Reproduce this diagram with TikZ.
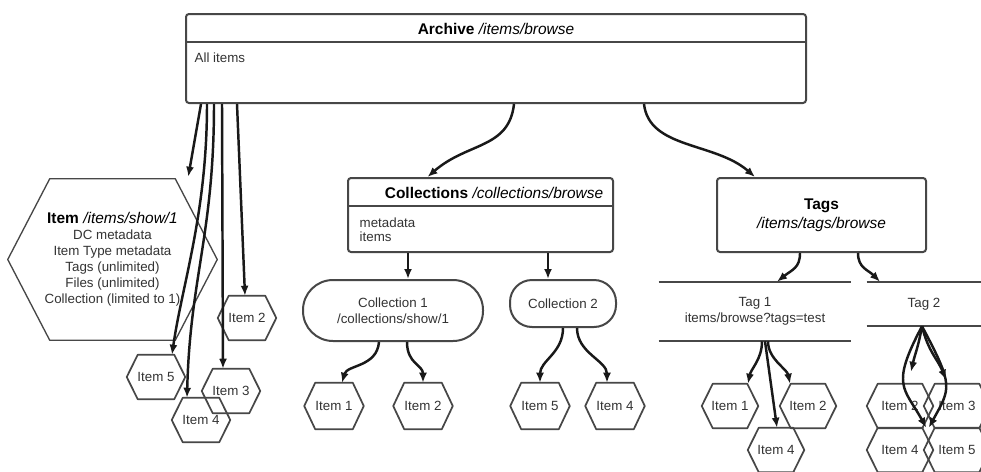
\documentclass[tikz,border=0pt]{standalone}
\usepackage{fontspec}
\setmainfont{Liberation Sans}
\usetikzlibrary{arrows.meta}
\newlength{\px}\setlength{\px}{0.75pt}
\newcommand{\bodyf}{\fontsize{10}{12}\selectfont}
\newcommand{\titlef}{\fontsize{11.6}{14.25}\selectfont}
\newcommand{\hexout}[3][]{\draw[hexline,#1] ([xshift=#3\px]#2.north west) -- ([xshift=-#3\px]#2.north east) -- (#2.east) -- ([xshift=-#3\px]#2.south east) -- ([xshift=#3\px]#2.south west) -- (#2.west) -- cycle;}
\tikzset{
  boxline/.style={draw=black!72, line width=1.5pt},
  boxnode/.style={boxline, rounded corners=3\px, inner sep=0pt},
  hexn/.style={inner sep=0pt, minimum width=58\px, minimum height=44\px, font=\bodyf, text=black!80},
  hexline/.style={draw=black!72, line width=1.3pt, line join=round},
  conn/.style={draw=black!90, line width=1.85pt, -{Latex[length=7.5pt,width=6pt]}},
  bodytext/.style={font=\bodyf, text=black!80},
}
\begin{document}
\begin{tikzpicture}[x=0.75pt,y=-0.75pt]
\clip (0,0) rectangle (981,471);
\fill[white] (0,0) rectangle (981,471);

% Archive
\node[boxnode, minimum width=620\px, minimum height=89\px] (archive) at (496,58.5) {};
\draw[boxline] ([yshift=-29\px]archive.north west) -- ([yshift=-29\px]archive.north east);
\node[font=\titlef] (archt) at (496,28.5) {\textbf{Archive} \itshape/items/browse};
\node[anchor=west, bodytext] (allit) at (190,58) {All items};

% Item big hexagon
\node[inner sep=0pt, minimum width=209\px, minimum height=161\px, align=center, bodytext] (item) at (112.5,259.5)
  {{\titlef\color{black}\textbf{Item} \itshape/items/show/1}\\DC metadata\\Item Type metadata\\Tags (unlimited)\\Files (unlimited)\\Collection (limited to 1)};
\hexout[line width=1pt]{item}{42}

% items from archive
\node[hexn] (i2a) at (247,318) {Item 2};
\node[hexn] (i5a) at (156,377) {Item 5};
\node[hexn] (i4a) at (201,420) {Item 4};
\node[hexn] (i3a) at (231,391) {Item 3};
\hexout{i2a}{11}
\hexout{i5a}{11}
\hexout{i4a}{11}
\hexout{i3a}{11}

\draw[conn] ([xshift=16\px]archive.south west) -- ([xshift=-29\px,yshift=2\px]item.north east);
\draw[conn] ([xshift=22\px]archive.south west) .. controls +(0,110) and +(10,-70) .. ([xshift=16\px]i5a.north);
\draw[conn] ([xshift=29\px]archive.south west) .. controls +(0,130) and +(3,-120) .. ([xshift=-14\px]i4a.north);
\draw[conn] ([xshift=37\px]archive.south west) -- ([xshift=-8\px]i3a.north);
\draw[conn] ([xshift=52\px]archive.south west) -- ([xshift=-2\px]i2a.north);

% Collections
\node[boxnode, minimum width=265\px, minimum height=74\px] (colls) at (480.5,215) {};
\draw[boxline] ([yshift=-29\px]colls.north west) -- ([yshift=-29\px]colls.north east);
\node[font=\titlef] (collt) at (494,193) {\textbf{Collections} \itshape/collections/browse};
\node[anchor=west, align=left, font=\fontsize{10}{10.5}\selectfont, text=black!80] (collb) at (355,230) {metadata\\items};
\draw[conn] ([xshift=329\px]archive.south west) .. controls +(-5,45) and +(40,-35) .. ([xshift=-53\px]colls.north);

% Tags
\node[boxnode, minimum width=209\px, minimum height=74\px, align=center, font=\titlef] (tags) at (821.5,215) {\textbf{Tags}\\\itshape/items/tags/browse};
\draw[conn] ([xshift=459\px]archive.south west) .. controls +(5,45) and +(-40,-35) .. ([xshift=-66.5\px]tags.north);

% Collection 1 and 2
\node[boxline, rounded corners=30\px, minimum width=180\px, minimum height=61\px, inner sep=0pt, align=center, bodytext] (c1) at (393,310.5) {Collection 1\\/collections/show/1};
\node[boxline, rounded corners=22\px, minimum width=106\px, minimum height=47\px, inner sep=0pt, bodytext] (c2) at (563,303.5) {Collection 2};
\draw[conn] ([xshift=-72.5\px]colls.south) -- ([xshift=15\px]c1.north);
\draw[conn] ([xshift=67.5\px]colls.south) -- ([xshift=-15\px]c2.north);

\node[hexn, minimum width=59\px, minimum height=46\px] (ci1) at (334,406) {Item 1};
\node[hexn, minimum width=59\px, minimum height=46\px] (ci2) at (423,406) {Item 2};
\node[hexn, minimum width=59\px, minimum height=46\px] (ci5) at (540,406) {Item 5};
\node[hexn, minimum width=59\px, minimum height=46\px] (ci4) at (615,406) {Item 4};
\hexout{ci1}{11}
\hexout{ci2}{11}
\hexout{ci5}{11}
\hexout{ci4}{11}
\draw[conn] ([xshift=-14\px]c1.south) .. controls +(-2,25) and +(5,-18) .. ([xshift=8\px]ci1.north);
\draw[conn] ([xshift=14\px]c1.south) .. controls +(0,22) and +(0,-18) .. (ci2.north);
\draw[conn] (c2.south) .. controls +(0,25) and +(0,-22) .. (ci5.north);
\draw[conn] ([xshift=14\px]c2.south) .. controls +(0,25) and +(0,-22) .. ([xshift=-8\px]ci4.north);

% Tag 1 and Tag 2
\node[minimum width=192\px, minimum height=59\px, inner sep=0pt, align=center, bodytext] (tag1) at (755,311.5) {Tag 1\\items/browse?tags=test};
\draw[boxline] (tag1.north west) -- (tag1.north east);
\draw[boxline] (tag1.south west) -- (tag1.south east);
\node[minimum width=114\px, minimum height=44\px, inner sep=0pt, bodytext] (tag2) at (924,304) {Tag 2};
\draw[boxline] (tag2.north west) -- (tag2.north east);
\draw[boxline] (tag2.south west) -- (tag2.south east);
\draw[conn] ([xshift=-21.5\px]tags.south) .. controls +(0,15) and +(15,-12) .. ([xshift=22\px]tag1.north);
\draw[conn] ([xshift=36.5\px]tags.south) .. controls +(0,15) and +(-12,-12) .. ([xshift=-44\px]tag2.north);

% Tag 1 items
\node[hexn, minimum width=56\px] (ti1) at (730,406) {Item 1};
\node[hexn, minimum width=56\px] (ti2) at (808,406) {Item 2};
\node[hexn, minimum width=56\px] (ti4) at (776,450) {Item 4};
\hexout{ti1}{11}
\hexout{ti2}{11}
\hexout{ti4}{11}
\draw[conn] ([xshift=7\px]tag1.south) .. controls +(0,18) and +(3,-15) .. ([xshift=18\px]ti1.north);
\draw[conn] ([xshift=13\px]tag1.south) .. controls +(0,18) and +(-3,-15) .. ([xshift=-18\px]ti2.north);
\draw[conn] ([xshift=10\px]tag1.south) -- ([xshift=1\px]ti4.north);

% Tag 2 items
\node[hexn, minimum width=66\px] (tb2) at (900,406) {Item 2};
\node[hexn, minimum width=66\px] (tb3) at (957,406) {Item 3};
\node[hexn, minimum width=66\px] (tb4) at (900,450) {Item 4};
\node[hexn, minimum width=66\px] (tb5) at (957,450) {Item 5};
\hexout{tb2}{11}
\hexout{tb3}{11}
\hexout{tb4}{11}
\hexout{tb5}{11}
\draw[conn] ([xshift=-2\px]tag2.south) .. controls +(-4,22) and +(4,-18) .. ([xshift=11\px,yshift=12\px]tb2.north);
\draw[conn] ([xshift=-2\px]tag2.south) .. controls +(6,25) and +(-8,-20) .. ([xshift=-11\px,yshift=4\px]tb3.north);
\draw[conn] ([xshift=-2\px]tag2.south) .. controls +(-32,60) and +(-22,-40) .. ([xshift=-7\px]tb4.north east);
\draw[conn] ([xshift=-2\px]tag2.south) .. controls +(32,60) and +(22,-40) .. ([xshift=5\px]tb5.north west);
\end{tikzpicture}
\end{document}
